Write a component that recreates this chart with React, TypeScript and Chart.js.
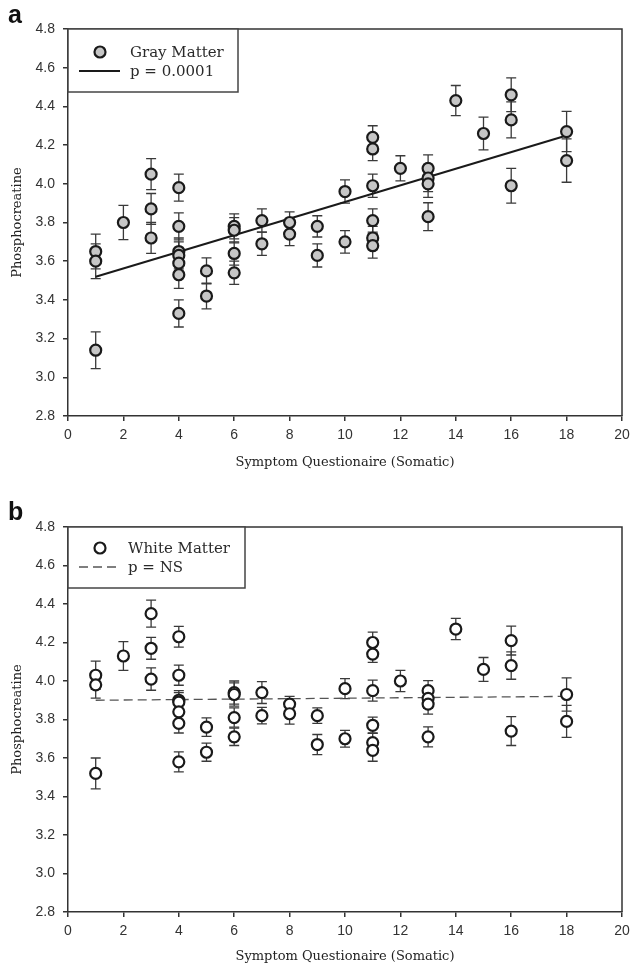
import React, { useEffect, useRef } from 'react';
import { Chart, registerables } from 'chart.js';

Chart.register(...registerables);

// ---------- shared axis text ----------
const xTitle = 'Symptom Questionaire (Somatic)';
const yTitle = 'Phosphocreatine';
const xRange = [0, 20];
const yRange = [2.8, 4.8];
const xStep = 2;
const yStep = 0.2;

// ---------- panel a : Gray Matter ----------
const grayLabel = 'Gray Matter';
const grayFitLabel = 'p = 0.0001';
const grayX = [1, 1, 1, 2, 3, 3, 3, 4, 4, 4, 4, 4, 4, 4, 5, 5, 6, 6, 6, 6, 7, 7, 8, 8, 9, 9, 10, 10, 11, 11, 11, 11, 11, 11, 12, 13, 13, 13, 13, 14, 15, 16, 16, 16, 18, 18];
const grayY = [3.65, 3.60, 3.14, 3.80, 4.05, 3.87, 3.72, 3.98, 3.78, 3.65, 3.63, 3.59, 3.53, 3.33, 3.55, 3.42, 3.78, 3.76, 3.64, 3.54, 3.81, 3.69, 3.80, 3.74, 3.78, 3.63, 3.96, 3.70, 4.24, 4.18, 3.99, 3.81, 3.72, 3.68, 4.08, 4.08, 4.03, 4.00, 3.83, 4.43, 4.26, 4.46, 4.33, 3.99, 4.27, 4.12];
const grayErr = [0.09, 0.09, 0.095, 0.088, 0.08, 0.08, 0.08, 0.07, 0.07, 0.07, 0.07, 0.07, 0.07, 0.07, 0.067, 0.066, 0.065, 0.065, 0.06, 0.06, 0.06, 0.06, 0.055, 0.06, 0.055, 0.06, 0.06, 0.058, 0.06, 0.06, 0.06, 0.06, 0.06, 0.064, 0.065, 0.07, 0.07, 0.07, 0.072, 0.078, 0.085, 0.087, 0.093, 0.09, 0.104, 0.112];
const grayFitX = [1, 18];
const grayFitY = [3.52, 4.25];

// ---------- panel b : White Matter ----------
const whiteLabel = 'White Matter';
const whiteFitLabel = 'p = NS';
const whiteX = [1, 1, 1, 2, 3, 3, 3, 4, 4, 4, 4, 4, 4, 4, 5, 5, 6, 6, 6, 6, 7, 7, 8, 8, 9, 9, 10, 10, 11, 11, 11, 11, 11, 11, 12, 13, 13, 13, 13, 14, 15, 16, 16, 16, 18, 18];
const whiteY = [4.03, 3.98, 3.52, 4.13, 4.35, 4.17, 4.01, 4.23, 4.03, 3.90, 3.89, 3.84, 3.78, 3.58, 3.76, 3.63, 3.94, 3.93, 3.81, 3.71, 3.94, 3.82, 3.88, 3.83, 3.82, 3.67, 3.96, 3.70, 4.20, 4.14, 3.95, 3.77, 3.68, 3.64, 4.00, 3.95, 3.91, 3.88, 3.71, 4.27, 4.06, 4.21, 4.08, 3.74, 3.93, 3.79];
const whiteErr = [0.073, 0.069, 0.08, 0.075, 0.07, 0.057, 0.058, 0.054, 0.052, 0.05, 0.05, 0.05, 0.05, 0.052, 0.048, 0.047, 0.06, 0.06, 0.05, 0.045, 0.057, 0.043, 0.04, 0.054, 0.04, 0.052, 0.052, 0.043, 0.054, 0.043, 0.055, 0.042, 0.05, 0.057, 0.055, 0.052, 0.052, 0.052, 0.052, 0.055, 0.062, 0.075, 0.071, 0.075, 0.086, 0.083];
const whiteFitX = [1, 18];
const whiteFitY = [3.90, 3.92];

type PanelCfg = {
  letter: string;
  top: number;
  height: number;
  padTop: number;
  plotBottom: number;
  titlePadBottom: number;
  letterY: number;
  xs: number[];
  ys: number[];
  errs: number[];
  fitX: number[];
  fitY: number[];
  label: string;
  fitLabel: string;
  fill: string;
  fitColor: string;
  fitWidth: number;
  dash: number[];
  legendW: number;
  legendH: number;
  row1: number;
  row2: number;
  textX: number;
  lineEnd: number;
};

const panels: PanelCfg[] = [
  {
    letter: 'a', top: 0, height: 483, padTop: 29, plotBottom: 416, titlePadBottom: 13, letterY: 23,
    xs: grayX, ys: grayY, errs: grayErr, fitX: grayFitX, fitY: grayFitY,
    label: grayLabel, fitLabel: grayFitLabel, fill: '#c6c6c6', fitColor: '#1a1a1a', fitWidth: 2, dash: [],
    legendW: 170, legendH: 63, row1: 23, row2: 42, textX: 62, lineEnd: 52,
  },
  {
    letter: 'b', top: 483, height: 483, padTop: 44, plotBottom: 429, titlePadBottom: 1.2, letterY: 37,
    xs: whiteX, ys: whiteY, errs: whiteErr, fitX: whiteFitX, fitY: whiteFitY,
    label: whiteLabel, fitLabel: whiteFitLabel, fill: '#ffffff', fitColor: '#555555', fitWidth: 1.3, dash: [9, 5],
    legendW: 177, legendH: 61, row1: 21, row2: 40, textX: 60, lineEnd: 50,
  },
];

const AXIS = '#333333';
const TICK_FONT = { family: '"Liberation Sans", Arial, sans-serif', size: 14 };
const TITLE_FONT = { family: '"DejaVu Serif", serif', size: 13 };

function Panel({ cfg }: { cfg: PanelCfg }) {
  const ref = useRef<HTMLCanvasElement>(null);

  useEffect(() => {
    const canvas = ref.current;
    if (!canvas) return;

    const decor = {
      id: 'decor',
      beforeDatasetsDraw(chart: any) {
        const { ctx } = chart;
        const sx = chart.scales.x;
        const sy = chart.scales.y;
        ctx.save();
        ctx.strokeStyle = '#3a3a3a';
        ctx.lineWidth = 1.3;
        cfg.xs.forEach((xv, i) => {
          const px = sx.getPixelForValue(xv);
          const pt = sy.getPixelForValue(cfg.ys[i] + cfg.errs[i]);
          const pb = sy.getPixelForValue(cfg.ys[i] - cfg.errs[i]);
          ctx.beginPath();
          ctx.moveTo(px, pt);
          ctx.lineTo(px, pb);
          ctx.moveTo(px - 5, pt);
          ctx.lineTo(px + 5, pt);
          ctx.moveTo(px - 5, pb);
          ctx.lineTo(px + 5, pb);
          ctx.stroke();
        });
        ctx.restore();
      },
      afterDatasetsDraw(chart: any) {
        const { ctx, chartArea } = chart;
        const { left, top, right, bottom } = chartArea;
        ctx.save();
        // frame: top and right borders
        ctx.strokeStyle = AXIS;
        ctx.lineWidth = 1.5;
        ctx.beginPath();
        ctx.moveTo(left, top);
        ctx.lineTo(right, top);
        ctx.lineTo(right, bottom);
        ctx.stroke();

        // legend box
        const L = left;
        const T = top;
        ctx.fillStyle = '#ffffff';
        ctx.fillRect(L, T, cfg.legendW, cfg.legendH);
        ctx.strokeStyle = '#444444';
        ctx.lineWidth = 1.5;
        ctx.strokeRect(L, T, cfg.legendW, cfg.legendH);

        // marker
        ctx.beginPath();
        ctx.arc(L + 32, T + cfg.row1, 5.5, 0, Math.PI * 2);
        ctx.fillStyle = cfg.fill;
        ctx.fill();
        ctx.strokeStyle = '#1a1a1a';
        ctx.lineWidth = 2.2;
        ctx.stroke();

        // line sample
        ctx.beginPath();
        ctx.setLineDash(cfg.dash);
        ctx.strokeStyle = cfg.fitColor;
        ctx.lineWidth = cfg.fitWidth;
        ctx.moveTo(L + 11, T + cfg.row2);
        ctx.lineTo(L + cfg.lineEnd, T + cfg.row2);
        ctx.stroke();
        ctx.setLineDash([]);

        // texts
        ctx.fillStyle = '#2a2a2a';
        ctx.font = '15px "DejaVu Serif", serif';
        ctx.textAlign = 'left';
        ctx.textBaseline = 'middle';
        ctx.fillText(cfg.label, L + cfg.textX, T + cfg.row1 + 1);
        ctx.fillText(cfg.fitLabel, L + cfg.textX, T + cfg.row2 + 1);
        ctx.restore();
      },
      afterDraw(chart: any) {
        const { ctx } = chart;
        ctx.save();
        ctx.fillStyle = '#111111';
        ctx.font = 'bold 25px "Liberation Sans", Arial, sans-serif';
        ctx.textAlign = 'left';
        ctx.textBaseline = 'alphabetic';
        ctx.fillText(cfg.letter, 8, cfg.letterY);
        ctx.restore();
      },
    };

    const chart = new Chart(canvas, {
      type: 'scatter',
      data: {
        datasets: [
          {
            label: cfg.label,
            data: cfg.xs.map((x, i) => ({ x, y: cfg.ys[i] })),
            backgroundColor: cfg.fill,
            borderColor: '#1a1a1a',
            borderWidth: 2.2,
            pointRadius: 5.5,
            pointHoverRadius: 5.5,
          },
          {
            type: 'line',
            label: cfg.fitLabel,
            data: cfg.fitX.map((x, i) => ({ x, y: cfg.fitY[i] })),
            borderColor: cfg.fitColor,
            borderWidth: cfg.fitWidth,
            borderDash: cfg.dash,
            pointRadius: 0,
            fill: false,
            showLine: true,
          } as any,
        ],
      },
      options: {
        responsive: false,
        animation: false,
        events: [],
        layout: { padding: { top: cfg.padTop, right: 9, left: 0, bottom: 0 } },
        plugins: {
          legend: { display: false },
          tooltip: { enabled: false },
        },
        scales: {
          x: {
            type: 'linear',
            min: xRange[0],
            max: xRange[1],
            ticks: {
              stepSize: xStep,
              color: AXIS,
              font: TICK_FONT,
              padding: 6,
              maxRotation: 0,
              autoSkip: false,
            },
            grid: { drawOnChartArea: false, drawTicks: true, tickLength: 5, color: AXIS, lineWidth: 1.5 },
            border: { display: true, color: AXIS, width: 1.5 },
            title: {
              display: true,
              text: xTitle,
              color: '#222222',
              font: TITLE_FONT,
              padding: { top: 0, bottom: cfg.titlePadBottom },
            },
            afterFit: (s: any) => {
              s.height = cfg.height - cfg.plotBottom;
              s.paddingLeft = 0;
              s.paddingRight = 0;
            },
          },
          y: {
            type: 'linear',
            min: yRange[0],
            max: yRange[1],
            ticks: {
              stepSize: yStep,
              color: AXIS,
              font: TICK_FONT,
              padding: 8,
              callback: (v: any) => Number(v).toFixed(1),
            },
            grid: { drawOnChartArea: false, drawTicks: true, tickLength: 5, color: AXIS, lineWidth: 1.5 },
            border: { display: true, color: AXIS, width: 1.5 },
            title: {
              display: true,
              text: yTitle,
              color: '#222222',
              font: TITLE_FONT,
              padding: { top: 10, bottom: 0 },
            },
            afterFit: (s: any) => {
              s.width = 68;
              s.paddingTop = 0;
              s.paddingBottom = 0;
            },
          },
        },
      },
      plugins: [decor],
    } as any);

    return () => chart.destroy();
  }, [cfg]);

  return (
    <div style={{ position: 'absolute', left: 0, top: cfg.top, width: 631, height: cfg.height }}>
      <canvas ref={ref} width={631} height={cfg.height} style={{ display: 'block', width: 631, height: cfg.height }} />
    </div>
  );
}

export default function App() {
  return (
    <div style={{ position: 'absolute', left: 0, top: 0, width: 631, height: 966, background: '#ffffff' }}>
      {panels.map((p) => (
        <Panel key={p.letter} cfg={p} />
      ))}
    </div>
  );
}
